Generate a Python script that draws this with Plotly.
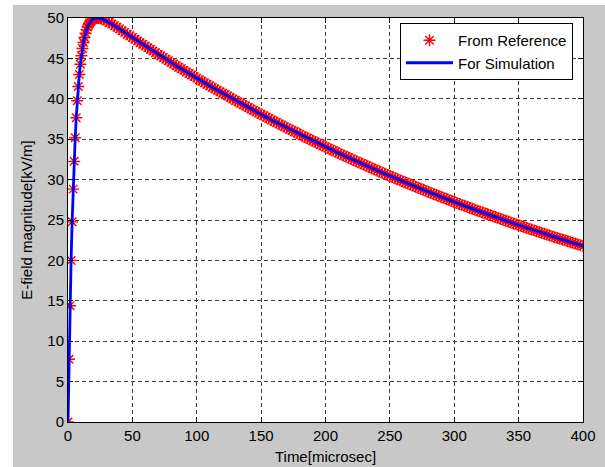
import plotly.graph_objects as go

# Time samples [microsec] and E-field magnitude [kV/m]
time_rise = [0.0, 0.8, 1.6, 2.4, 3.2, 4.0, 4.8, 5.6, 6.4, 7.2, 8.0, 8.8, 9.6, 10.4,
             11.2, 12.0, 12.8, 13.6, 14.4, 15.2, 16.0, 16.8, 17.6, 18.4, 19.2, 20.0,
             20.8, 21.6, 22.4, 23.2, 24.0]
efield_rise = [0.00, 7.77, 14.38, 20.00, 24.77, 28.82, 32.26, 35.18, 37.65, 39.75,
               41.52, 43.01, 44.27, 45.33, 46.22, 46.97, 47.59, 48.11, 48.53, 48.88,
               49.17, 49.39, 49.58, 49.72, 49.83, 49.90, 49.96, 49.99, 50.00, 50.00,
               49.99]

time_decay = [
    26, 28, 30, 32, 34, 36, 38, 40, 42, 44, 46, 48, 50, 52, 54, 56, 58, 60, 62, 64,
    66, 68, 70, 72, 74, 76, 78, 80, 82, 84, 86, 88, 90, 92, 94, 96, 98, 100, 102, 104,
    106, 108, 110, 112, 114, 116, 118, 120, 122, 124, 126, 128, 130, 132, 134, 136,
    138, 140, 142, 144, 146, 148, 150, 152, 154, 156, 158, 160, 162, 164, 166, 168,
    170, 172, 174, 176, 178, 180, 182, 184, 186, 188, 190, 192, 194, 196, 198, 200,
    202, 204, 206, 208, 210, 212, 214, 216, 218, 220, 222, 224, 226, 228, 230, 232,
    234, 236, 238, 240, 242, 244, 246, 248, 250, 252, 254, 256, 258, 260, 262, 264,
    266, 268, 270, 272, 274, 276, 278, 280, 282, 284, 286, 288, 290, 292, 294, 296,
    298, 300, 302, 304, 306, 308, 310, 312, 314, 316, 318, 320, 322, 324, 326, 328,
    330, 332, 334, 336, 338, 340, 342, 344, 346, 348, 350, 352, 354, 356, 358, 360,
    362, 364, 366, 368, 370, 372, 374, 376, 378, 380, 382, 384, 386, 388, 390, 392,
    394, 396, 398, 400]
efield_decay = [
    49.91, 49.78, 49.62, 49.44, 49.25, 49.05, 48.85, 48.64, 48.43, 48.22, 48.00, 47.79,
    47.58, 47.37, 47.16, 46.95, 46.74, 46.53, 46.32, 46.12, 45.91, 45.71, 45.50, 45.30,
    45.10, 44.90, 44.70, 44.50, 44.30, 44.10, 43.91, 43.71, 43.52, 43.32, 43.13, 42.94,
    42.75, 42.56, 42.37, 42.18, 41.99, 41.80, 41.62, 41.43, 41.25, 41.06, 40.88, 40.70,
    40.52, 40.34, 40.16, 39.98, 39.80, 39.62, 39.45, 39.27, 39.10, 38.92, 38.75, 38.58,
    38.40, 38.23, 38.06, 37.89, 37.72, 37.56, 37.39, 37.22, 37.06, 36.89, 36.73, 36.56,
    36.40, 36.24, 36.08, 35.92, 35.76, 35.60, 35.44, 35.28, 35.12, 34.97, 34.81, 34.66,
    34.50, 34.35, 34.19, 34.04, 33.89, 33.74, 33.59, 33.44, 33.29, 33.14, 32.99, 32.85,
    32.70, 32.56, 32.41, 32.27, 32.12, 31.98, 31.84, 31.70, 31.55, 31.41, 31.27, 31.13,
    31.00, 30.86, 30.72, 30.58, 30.45, 30.31, 30.18, 30.04, 29.91, 29.78, 29.64, 29.51,
    29.38, 29.25, 29.12, 28.99, 28.86, 28.73, 28.60, 28.48, 28.35, 28.22, 28.10, 27.97,
    27.85, 27.72, 27.60, 27.48, 27.35, 27.23, 27.11, 26.99, 26.87, 26.75, 26.63, 26.51,
    26.39, 26.28, 26.16, 26.04, 25.93, 25.81, 25.70, 25.58, 25.47, 25.36, 25.24, 25.13,
    25.02, 24.91, 24.80, 24.69, 24.58, 24.47, 24.36, 24.25, 24.14, 24.03, 23.93, 23.82,
    23.71, 23.61, 23.50, 23.40, 23.29, 23.19, 23.09, 22.98, 22.88, 22.78, 22.68, 22.58,
    22.48, 22.38, 22.28, 22.18, 22.08, 21.98, 21.88, 21.79]

time_ref = time_rise + time_decay
efield_ref = efield_rise + efield_decay
time_sim = time_rise + time_decay
efield_sim = efield_rise + efield_decay

x_ticks = [0, 50, 100, 150, 200, 250, 300, 350, 400]
y_ticks = [0, 5, 10, 15, 20, 25, 30, 35, 40, 45, 50]

FONT = "Liberation Sans, Arial, sans-serif"
BG = "#c8c8c8"

fig = go.Figure()
fig.add_trace(go.Scatter(
    x=time_ref, y=efield_ref, mode="markers", name="From Reference",
    marker=dict(symbol="asterisk-open", size=10, color="#ff0000",
                line=dict(color="#ff0000", width=1.4)),
))
fig.add_trace(go.Scatter(
    x=time_sim, y=efield_sim, mode="lines", name="For Simulation",
    line=dict(color="#0000ff", width=2.8),
))

axis_common = dict(
    showline=True, linecolor="#000000", linewidth=1, mirror="ticks",
    ticks="inside", ticklen=5, tickcolor="#000000",
    showgrid=True, gridcolor="#3a3a3a", gridwidth=1, griddash="4px,3px",
    zeroline=False, automargin=False,
    tickfont=dict(family=FONT, size=15, color="#000000"),
    title_font=dict(family=FONT, size=15, color="#000000"),
)

fig.update_xaxes(range=[0, 400], tickvals=x_ticks, ticktext=[str(v) for v in x_ticks],
                 title_text="Time[microsec]", title_standoff=8, **axis_common)
fig.update_yaxes(range=[0, 50], tickvals=y_ticks, ticktext=[str(v) for v in y_ticks],
                 title_text="E-field magnitude[kV/m]", title_standoff=11, **axis_common)

L, R, T, B = 68, 22, 18, 45
W, H = 605, 467
pw, ph = W - L - R, H - T - B


def px_x(px):
    return (px - L) / pw


def px_y(py):
    return (H - B - py) / ph


fig.update_layout(
    width=W, height=H,
    margin=dict(l=L, r=R, t=T, b=B, pad=0, autoexpand=False),
    paper_bgcolor=BG, plot_bgcolor="#ffffff",
    font=dict(family=FONT, size=15, color="#000000"),
    showlegend=True,
    legend=dict(
        x=px_x(400), y=px_y(23), xanchor="left", yanchor="top",
        bgcolor="#ffffff", bordercolor="#000000", borderwidth=1,
        font=dict(family=FONT, size=15, color="#000000"),
        itemwidth=47, tracegroupgap=0,
    ),
    shapes=[
        dict(type="rect", xref="paper", yref="paper", layer="above",
             x0=px_x(-2), x1=px_x(13), y0=px_y(H + 2), y1=px_y(-2),
             fillcolor="#ffffff", line=dict(width=0)),
        dict(type="rect", xref="paper", yref="paper", layer="above",
             x0=px_x(-2), x1=px_x(W + 2), y0=px_y(5), y1=px_y(-2),
             fillcolor="#ffffff", line=dict(width=0)),
    ],
)

fig.write_html(
    "out.html",
    config={"displayModeBar": False},
    post_script="document.body.style.margin='0';document.body.style.padding='0';",
)
